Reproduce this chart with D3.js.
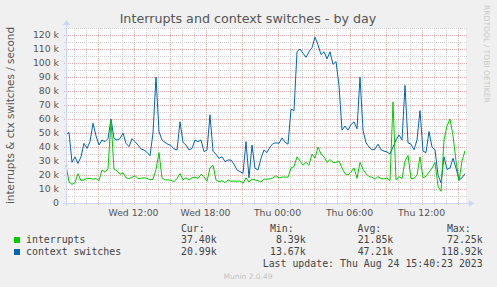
<!DOCTYPE html>
<html>
<head>
<meta charset="utf-8">
<script src="https://cdn.jsdelivr.net/npm/d3@7"></script>
<style>
  body { margin: 0; background: #f0f0f0; }
  svg { display: block; }
  text { font-family: "DejaVu Sans", sans-serif; fill: #555; }
  .mono { font-family: "DejaVu Sans Mono", monospace; font-size: 9.9px; fill: #444; }
</style>
</head>
<body>
<svg id="chart" width="497" height="287"></svg>
<script>
// munin "irqstats" day view, one sample every 15 minutes (values in thousands / s)
const startTime = new Date(2023, 7, 23, 6, 22, 30);
const endTime = new Date(2023, 7, 24, 15, 42, 30);
const stepMinutes = 15;

const interrupts = [
  27, 15, 13.3, 14.5, 21, 16, 16.5, 17.6, 17.5, 17, 17.5, 16, 23.6, 22, 24.5, 59, 24, 23, 20.5, 21.5,
  18, 17.5, 18.3, 19.5, 17.5, 17.6, 18, 17.6, 16.5, 17, 24, 36, 18, 16.5, 16.5, 16.2, 15.2, 17.5, 21, 16.5,
  18, 16.5, 18, 18.5, 17.5, 20.5, 18.8, 15.5, 25, 27, 16.5, 15.2, 16, 14.5, 16.5, 15.5, 15.7, 15.5, 15.7, 14,
  18, 15, 17, 16.5, 16, 15, 17,
  17, 17.2, 18, 19.5, 18, 18.5, 18.5, 18.5, 25, 26, 33, 30, 27, 29, 27, 35, 32, 40, 35, 33,
  29, 31, 29, 29, 30, 25, 21, 20, 22, 25, 17.6, 29, 24, 21, 18.8, 18.5, 17, 18.8, 17.5, 17.2,
  17.8, 16, 72.25, 16.5, 18.8, 17.5, 30, 34, 17.5, 17.5, 20, 33, 18, 19, 22, 25, 29, 12, 8.39, 45,
  55, 60, 48, 30, 16, 30, 37.4
];

const contextSwitches = [
  48.6, 50.5, 29, 33, 28.3, 33, 42.6, 39, 43.8, 57, 48, 41.4, 45, 43.8, 46, 60, 46, 45, 46, 50,
  42.6, 40.2, 46, 43.8, 41.4, 38.6, 37.9, 36.2, 33.8, 50, 90, 51, 45, 43.3, 41.9, 41, 38.6, 37.9, 58, 43.3,
  41.4, 37.9, 39, 45, 43.8, 45, 36.7, 37.9, 63, 37, 34.8, 31.9, 33, 29.5, 30.7, 30.7, 27.6, 23.6, 22.4, 21.2,
  43.8, 18, 41.4, 24.8, 23.6, 31.9, 37.9,
  36, 40, 42.5, 43, 42.6, 46.5, 43.5, 42, 67, 66, 108, 110, 107, 104, 108, 111, 118.5, 113, 106, 108,
  103, 108, 99, 101, 84, 52, 55, 52, 56, 58, 53, 90, 52, 43, 40, 38, 38.5, 42, 38, 37,
  36.5, 35, 40, 45, 48.6, 45, 84, 43, 42, 38, 45, 66, 37, 36, 51, 40, 38, 20, 14.5, 33,
  24, 25, 32, 25, 16.5, 18, 20.99
];

const yTicks = [0, 10, 20, 30, 40, 50, 60, 70, 80, 90, 100, 110, 120];
const statHeaders = ["Cur:", "Min:", "Avg:", "Max:"];
const interruptsStats = ["37.40k", "8.39k", "21.85k", "72.25k"];
const contextStats = ["20.99k", "13.67k", "47.21k", "118.92k"];

const settings = {
  left: 66, right: 466, top: 28, bottom: 203,
  yMax: 125,
  axisColor: "#cdd4f4",
  minorGrid: "#cfcfcf",
  majorGrid: "#e6b0b0"
};

const svg = d3.select("#chart");

const x = d3.scaleTime().domain([startTime, endTime]).range([settings.left, settings.right]);
const y = d3.scaleLinear().domain([0, settings.yMax]).range([settings.bottom, settings.top]);

const series = [
  { name: "context switches", color: "#0066b3", values: contextSwitches },
  { name: "interrupts", color: "#00cc00", values: interrupts }
];

// white canvas
svg.append("rect")
  .attr("x", settings.left).attr("y", settings.top)
  .attr("width", settings.right - settings.left)
  .attr("height", settings.bottom - settings.top)
  .style("fill", "#fff");

// grid
const grid = svg.append("g").attr("class", "grid").style("shape-rendering", "crispEdges");

let minorY = d3.range(0, settings.yMax + 1, 5).filter(v => v % 10 !== 0);
let majorY = d3.range(0, settings.yMax + 1, 10);
let minorX = d3.timeHour.range(startTime, endTime).filter(d => d.getHours() % 3 !== 0);
let majorX = d3.timeHour.every(3).range(startTime, endTime);

function hLines(vals, color) {
  grid.selectAll(null).data(vals).join("line")
    .attr("x1", settings.left - 2).attr("x2", settings.right + 2)
    .attr("y1", d => Math.round(y(d)) + 0.5).attr("y2", d => Math.round(y(d)) + 0.5)
    .style("stroke", color).style("stroke-dasharray", "1,1");
}
function vLines(vals, color) {
  grid.selectAll(null).data(vals).join("line")
    .attr("x1", d => Math.round(x(d)) + 0.5).attr("x2", d => Math.round(x(d)) + 0.5)
    .attr("y1", settings.top).attr("y2", settings.bottom + 2)
    .style("stroke", color).style("stroke-dasharray", "1,1");
}
hLines(minorY, settings.minorGrid);
vLines(minorX, settings.minorGrid);
hLines(majorY.filter(v => v > 0), settings.majorGrid);
vLines(majorX, settings.majorGrid);

// data lines, context switches under interrupts
const line = d3.line()
  .x((d, i) => x(d3.timeMinute.offset(startTime, i * stepMinutes)))
  .y(d => y(d));

svg.append("g").selectAll("path").data(series).join("path")
  .attr("d", d => line(d.values))
  .style("fill", "none")
  .style("stroke", d => d.color)
  .style("stroke-width", 1);

// axes with arrows
const axes = svg.append("g").style("shape-rendering", "crispEdges");
axes.append("line")
  .attr("x1", settings.left - 3).attr("x2", settings.right + 3)
  .attr("y1", settings.bottom + 0.5).attr("y2", settings.bottom + 0.5)
  .style("stroke", settings.axisColor);
axes.append("line")
  .attr("x1", settings.left + 0.5).attr("x2", settings.left + 0.5)
  .attr("y1", settings.bottom + 3).attr("y2", settings.top - 4)
  .style("stroke", settings.axisColor);
svg.append("path")
  .attr("d", `M${settings.right + 3},${settings.bottom - 3}L${settings.right + 8},${settings.bottom + 0.5}L${settings.right + 3},${settings.bottom + 4}Z`)
  .style("fill", settings.axisColor);
svg.append("path")
  .attr("d", `M${settings.left - 3},${settings.top - 3}L${settings.left + 0.5},${settings.top - 8}L${settings.left + 4},${settings.top - 3}Z`)
  .style("fill", settings.axisColor);

// tick labels
svg.append("g").selectAll("text").data(yTicks).join("text")
  .attr("x", 59).attr("y", d => y(d) + 3.3)
  .attr("text-anchor", "end")
  .style("font-size", "9.3px")
  .text(d => d === 0 ? "0" : d + " k");

const timeLabels = d3.timeHour.every(6).range(startTime, endTime);
svg.append("g").selectAll("text").data(timeLabels).join("text")
  .attr("x", d => x(d)).attr("y", 216)
  .attr("text-anchor", "middle")
  .style("font-size", "9.3px")
  .text(d3.timeFormat("%a %H:%M"));

// titles
svg.append("text")
  .attr("x", 248).attr("y", 23)
  .attr("text-anchor", "middle")
  .style("font-size", "12.7px")
  .text("Interrupts and context switches - by day");

svg.append("text")
  .attr("transform", `translate(14,${(settings.top + settings.bottom) / 2}) rotate(-90)`)
  .attr("text-anchor", "middle")
  .style("font-size", "10.4px")
  .text("interrupts & ctx switches / second");

svg.append("text")
  .attr("transform", "translate(484,5) rotate(90)")
  .style("font-size", "7.6px").style("fill", "#c8c8c8")
  .text("RRDTOOL / TOBI OETIKER");

// legend
const colEnds = [216.7, 305.7, 393.3, 482.7];
const legend = svg.append("g");
legend.selectAll("text.head").data(statHeaders).join("text")
  .attr("class", "mono head")
  .attr("x", (d, i) => colEnds[i] - 12).attr("y", 231.5)
  .attr("text-anchor", "end")
  .text(d => d);

const rows = [
  { name: "interrupts", color: "#00cc00", stats: interruptsStats, y: 243.3 },
  { name: "context switches", color: "#0066b3", stats: contextStats, y: 255.3 }
];
rows.forEach(r => {
  legend.append("rect")
    .attr("x", 14).attr("y", r.y - 6.3).attr("width", 6).attr("height", 6)
    .style("fill", r.color);
  legend.append("text").attr("class", "mono")
    .attr("x", 26).attr("y", r.y).text(r.name);
  legend.selectAll(null).data(r.stats).join("text")
    .attr("class", "mono")
    .attr("x", (d, i) => colEnds[i]).attr("y", r.y)
    .attr("text-anchor", "end")
    .text(d => d);
});

legend.append("text").attr("class", "mono")
  .attr("x", 482.7).attr("y", 267.3)
  .attr("text-anchor", "end")
  .text("Last update: Thu Aug 24 15:40:23 2023");

svg.append("text")
  .attr("x", 248).attr("y", 279)
  .attr("text-anchor", "middle")
  .style("font-size", "7.5px").style("fill", "#c4c4c4")
  .text("Munin 2.0.49");
</script>
</body>
</html>
